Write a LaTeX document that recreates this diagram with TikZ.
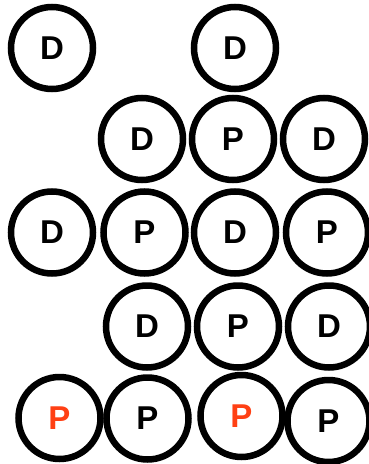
\documentclass[tikz,border=0pt]{standalone}
\usepackage{fontspec}
\setmainfont{Liberation Sans}
\definecolor{redp}{RGB}{255,64,20}
\tikzset{
  ball/.style={circle,draw=black,line width=6.5pt,minimum size=82pt,inner sep=0pt,
    font=\fontsize{33}{33}\selectfont\bfseries,text=black},
  redball/.style={ball,text=redp}
}
\begin{document}
\begin{tikzpicture}[x=1pt,y=-1pt]
\useasboundingbox (0,0) rectangle (369,464);
\node[ball] (a1) at (52,48) {D};
\node[ball] (a2) at (235,48) {D};
\node[ball] (b1) at (142,139) {D};
\node[ball] (b2) at (233,139) {P};
\node[ball] (b3) at (324,139) {D};
\node[ball] (c1) at (52,232.5) {D};
\node[ball] (c2) at (144.5,232.5) {P};
\node[ball] (c3) at (235,232.5) {D};
\node[ball] (c4) at (327,232.5) {P};
\node[ball] (d1) at (147,326.5) {D};
\node[ball] (d2) at (238,326.5) {P};
\node[ball] (d3) at (329,326.5) {D};
\node[redball] (e1) at (59.5,418) {P};
\node[ball] (e2) at (147.5,418.5) {P};
\node[redball] (e3) at (241.5,416) {P};
\node[ball] (e4) at (328.5,421) {P};
\end{tikzpicture}
\end{document}
